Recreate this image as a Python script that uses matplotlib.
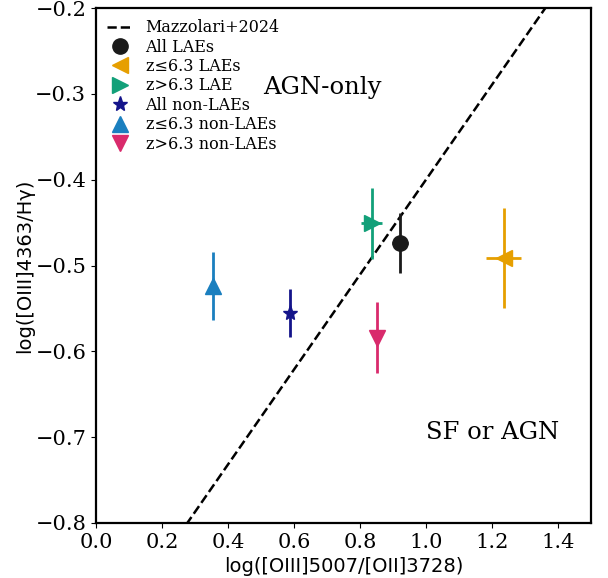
import numpy as np
import matplotlib.pyplot as plt

# Mazzolari+2024 demarcation line
line_x = np.array([0.0, 1.5])
line_slope = 0.553
line_icpt = -0.953

# points: x, xerr, y, yerr
labels = ['All LAEs', 'z≤6.3 LAEs', 'z>6.3 LAE', 'All non-LAEs', 'z≤6.3 non-LAEs', 'z>6.3 non-LAEs']
xs = [0.921, 1.236, 0.836, 0.588, 0.355, 0.852]
xerrs = [0.025, 0.053, 0.032, 0.004, 0.004, 0.004]
ys = [-0.474, -0.491, -0.451, -0.555, -0.524, -0.584]
yerrs = [0.035, 0.058, 0.041, 0.028, 0.040, 0.041]
markers = ['o', '<', '>', '*', '^', 'v']
colors = ['#1a1a1a', '#e69f00', '#12a079', '#14148a', '#1a7fbf', '#d92a6c']

fig = plt.figure(figsize=(6.08, 5.78), dpi=100)
ax = fig.add_axes([96/608, 55/578, 495/608, 515/578])

handles = []
ln, = ax.plot(line_x, line_slope*line_x + line_icpt, 'k--', lw=1.8, label='Mazzolari+2024')
handles.append(ln)
for i in range(len(labels)):
    eb = ax.errorbar(xs[i], ys[i], xerr=xerrs[i], yerr=yerrs[i], fmt=markers[i],
                     color=colors[i], ms=11, elinewidth=2, capsize=0, label=labels[i])
    handles.append(eb[0])

ax.text(0.685, -0.293, 'AGN-only', fontsize=17.5, family='serif', ha='center', va='center')
ax.text(1.203, -0.694, 'SF or AGN', fontsize=17.5, family='serif', ha='center', va='center')

ax.set_xlim(0, 1.5)
ax.set_ylim(-0.8, -0.2)
ax.set_xlabel('log([OIII]5007/[OII]3728)', fontsize=14)
ax.set_ylabel('log([OIII]4363/Hγ)', fontsize=14, labelpad=1)
for t in ax.get_xticklabels() + ax.get_yticklabels():
    t.set_family('serif')
    t.set_fontsize(15)
for s in ax.spines.values():
    s.set_linewidth(1.6)

leg = ax.legend(handles=handles, labels=['Mazzolari+2024'] + labels, loc='upper left',
                frameon=False, prop={'family': 'serif', 'size': 11.5}, labelspacing=0.15,
                handlelength=1.6, borderaxespad=0.3)

fig.savefig('out.png', dpi=100)
